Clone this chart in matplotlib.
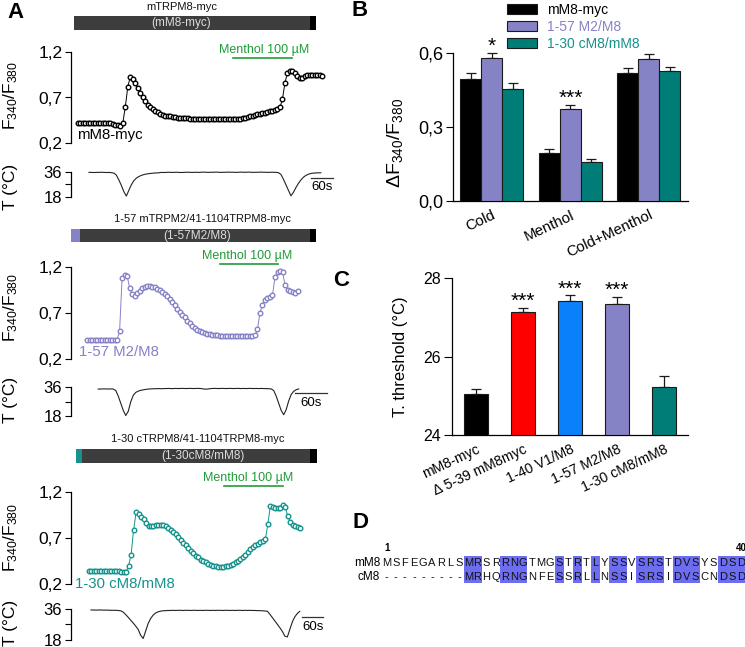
import numpy as np
import matplotlib
matplotlib.use('Agg')
import matplotlib.pyplot as plt
from matplotlib.transforms import blended_transform_factory
from matplotlib.patches import Rectangle

plt.rcParams['font.family'] = ['Liberation Sans', 'DejaVu Sans']
plt.rcParams['mathtext.fontset'] = 'custom'
plt.rcParams['mathtext.rm'] = 'Liberation Sans'
plt.rcParams['mathtext.it'] = 'Liberation Sans:italic'
plt.rcParams['mathtext.bf'] = 'Liberation Sans:bold'
plt.rcParams['axes.linewidth'] = 0.9

# ======================= DATA =======================
# ---- Panel A: calcium imaging traces ----
A_TITLES = ['mTRPM8-myc', '1-57 mTRPM2/41-1104TRPM8-myc', '1-30 cTRPM8/41-1104TRPM8-myc']
A_SHORT = ['(mM8-myc)', '(1-57M2/M8)', '(1-30cM8/mM8)']
A_LABELS = ['mM8-myc', '1-57 M2/M8', '1-30 cM8/mM8']
A_COLORS = ['#000000', '#8682c6', '#14928b']
A_HEAD = [None, '#8682c6', '#14928b']
MENTHOL_LABEL = 'Menthol 100 µM'

RATIO_T0 = [19, 30, 51]        # s, first sample
RATIO_DT = [6.8, 4.7, 7.1]     # s per sample
TEMP_T0 = [49, 51, 57]
TEMP_DT = [6.8, 4.7, 7.1]
MENTHOL_ON = [(442, 603), (279, 388), (437, 606)]   # s
SCALE_START = [654, 420, 660]  # s
SCALE_LEN = 60                 # s

ratio_1 = [0.42, 0.421, 0.42, 0.419, 0.42, 0.421, 0.42, 0.42, 0.419, 0.42, 0.42, 0.419, 0.418,
           0.415, 0.41, 0.40, 0.395, 0.39,
           0.42, 0.60, 0.82, 0.93, 0.91, 0.86, 0.80, 0.75, 0.70, 0.66, 0.62, 0.59, 0.57, 0.55,
           0.535, 0.52, 0.51, 0.50, 0.495, 0.49, 0.485, 0.48, 0.478, 0.475, 0.472, 0.47, 0.468, 0.466,
           0.465, 0.465, 0.464, 0.465, 0.463, 0.464, 0.463, 0.462, 0.463, 0.461, 0.462, 0.46, 0.461,
           0.459, 0.46, 0.458, 0.459,
           0.46, 0.462, 0.466, 0.47, 0.476, 0.483, 0.49, 0.497, 0.505, 0.512, 0.52, 0.527, 0.534,
           0.54, 0.547, 0.554, 0.562, 0.572, 0.59, 0.68, 0.86, 0.97, 0.99, 0.99, 0.97, 0.94, 0.92,
           0.92, 0.935, 0.95, 0.95, 0.95, 0.95, 0.95, 0.945, 0.94]
ratio_2 = [0.41, 0.41, 0.409, 0.41, 0.411, 0.41, 0.41, 0.409, 0.41, 0.41, 0.411, 0.41, 0.41,
           0.50, 1.08, 1.11, 1.10, 0.97, 0.90, 0.88, 0.91, 0.94, 0.965, 0.98, 0.99, 0.99, 0.985,
           0.975, 0.96, 0.945, 0.925, 0.905, 0.88, 0.85, 0.815, 0.78, 0.745, 0.71, 0.68, 0.65,
           0.615, 0.59, 0.56, 0.535, 0.515, 0.50, 0.49, 0.48, 0.475, 0.47, 0.465, 0.46, 0.455, 0.452,
           0.45, 0.45, 0.449, 0.45, 0.448, 0.45, 0.449, 0.45, 0.45, 0.449, 0.45, 0.45, 0.452, 0.455,
           0.52, 0.70, 0.79, 0.835, 0.86, 0.87, 0.89, 1.09, 1.14, 1.15, 1.14, 1.00, 0.95, 0.94,
           0.93, 0.91, 0.94]
ratio_3 = [0.34, 0.34, 0.341, 0.34, 0.339, 0.34, 0.34, 0.341, 0.34, 0.339, 0.338, 0.338, 0.337,
           0.336, 0.335, 0.336,
           0.40, 0.52, 0.79, 0.98, 0.96, 0.93, 0.91, 0.86, 0.83, 0.83, 0.835, 0.84, 0.845, 0.845,
           0.84, 0.83, 0.815, 0.79, 0.77, 0.74, 0.71, 0.68, 0.65, 0.62, 0.59, 0.56, 0.535, 0.51,
           0.49, 0.465, 0.45, 0.435, 0.42, 0.41, 0.40, 0.395, 0.39, 0.39, 0.39, 0.395, 0.40, 0.41,
           0.42, 0.435, 0.45, 0.47, 0.49, 0.52, 0.55, 0.58, 0.60, 0.62, 0.64, 0.655, 0.67, 0.69,
           0.85, 1.05, 1.04, 1.03, 1.03, 1.03, 1.06, 1.04, 0.94, 0.88, 0.84, 0.83, 0.82, 0.81]

temp_1 = [35.5, 35.5, 35.4, 35.5, 35.5, 35.6, 35.5, 35.4, 35.5, 35.3,
          35.0, 33.5, 30.0, 26.0, 21.5, 18.3, 22.5, 26.5, 29.5, 31.3, 32.5, 33.3, 33.9, 34.3,
          34.6, 34.8, 35.0, 35.1, 35.2,
          35.5, 35.4, 35.5, 35.6, 35.5, 35.5, 35.6, 35.5, 35.4, 35.5, 35.6, 35.6, 35.5, 35.5,
          35.6, 35.5, 35.6, 35.7, 35.6, 35.5, 35.6, 35.6, 35.7, 35.6, 35.5, 35.6, 35.6, 35.7,
          35.6, 35.6, 35.5, 35.6, 35.7, 35.6, 35.6, 35.7, 35.6, 35.5, 35.6, 35.6, 35.7, 35.6,
          35.6, 35.5, 35.6, 35.6, 35.5,
          35.3, 34.0, 30.5, 26.5, 22.5, 18.5, 21.0, 24.5, 27.5, 30.0, 32.0, 33.3, 34.2, 34.7,
          35.0, 35.1, 35.2, 35.2]
temp_2 = [34.9, 34.9, 35.0, 35.0, 34.9, 35.0, 34.9,
          34.0, 30.5, 26.0, 21.5, 18.3, 21.0, 27.0, 31.0, 32.8, 33.6, 34.1, 34.4, 34.7, 34.9, 35.0,
          35.1, 35.1, 35.2, 35.1, 35.2, 35.2, 35.3, 35.2, 35.2, 35.3, 35.2, 35.3, 35.3, 35.2, 35.3,
          35.3, 35.2, 35.3, 35.3, 35.2, 35.0, 34.8, 35.0, 35.2, 35.3, 35.3, 35.2, 35.3, 35.3, 35.2,
          35.3, 35.3, 35.2, 35.3, 35.3, 35.2, 35.3, 35.2, 35.3, 35.3, 35.2, 35.3, 35.2, 35.3, 35.2,
          35.2, 35.1,
          35.0, 34.0, 30.5, 26.0, 21.5, 18.8, 22.0, 27.5, 31.5, 33.5, 34.5, 35.0]
temp_3 = [35.6, 35.6, 35.5, 35.6, 35.6, 35.5, 35.5, 35.5, 35.4, 35.4, 35.4, 35.3,
          35.1, 34.3, 32.8, 31.2, 29.5, 27.8, 26.0, 24.0, 20.5, 18.6,
          23.0, 27.5, 30.5, 32.5, 33.8, 34.5, 34.9, 35.1, 35.2, 35.3,
          35.3, 35.4, 35.3, 35.4, 35.4, 35.3, 35.4, 35.4, 35.3, 35.4, 35.4, 35.3, 35.4, 35.3,
          35.4, 35.4, 35.3, 35.4, 35.3, 35.4, 35.4, 35.3, 35.4, 35.4, 35.3, 35.4, 35.3, 35.4,
          35.4, 35.3, 35.4, 35.3, 35.4, 35.3, 35.3, 35.2, 35.2, 35.1, 35.0,
          34.8, 33.0, 31.0, 29.0, 27.0, 25.0, 22.8, 20.0, 19.5, 24.0, 28.5, 31.5, 33.5, 34.8]

RATIOS = [ratio_1, ratio_2, ratio_3]
TEMPS = [temp_1, temp_2, temp_3]
RATIO_TICKS = [0.2, 0.7, 1.2]
RATIO_TICKLABELS = ['0,2', '0,7', '1,2']
TEMP_TICKS = [18, 27, 36]
TEMP_TICKLABELS = ['18', '', '36']

# ---- Panel B ----
B_CATS = ['Cold', 'Menthol', 'Cold+Menthol']
B_SERIES = ['mM8-myc', '1-57 M2/M8', '1-30 cM8/mM8']
B_MEANS = [[0.496, 0.196, 0.521],
           [0.580, 0.372, 0.577],
           [0.456, 0.157, 0.528]]
B_SEM = [[0.022, 0.014, 0.018],
         [0.020, 0.020, 0.019],
         [0.022, 0.013, 0.017]]
B_STARS = ['*', '***', '']          # over series 2
B_COLORS = ['#000000', '#8682c6', '#007d77']
B_TEXTCOLORS = ['#000000', '#8682c6', '#14928b']
B_TICKS = [0.0, 0.3, 0.6]
B_TICKLABELS = ['0,0', '0,3', '0,6']

# ---- Panel C ----
C_CATS = ['mM8-myc', 'Δ 5-39 mM8myc', '1-40 V1/M8', '1-57 M2/M8', '1-30 cM8/mM8']
C_MEANS = [25.04, 27.13, 27.42, 27.34, 25.23]
C_SEM = [0.13, 0.12, 0.16, 0.19, 0.28]
C_COLORS = ['#000000', '#ff0000', '#0a80fa', '#8682c6', '#007d77']
C_STARS = ['', '***', '***', '***', '']
C_TICKS = [24, 26, 28]

# ---- Panel D ----
D_NAMES = ['mM8', 'cM8']
D_SEQS = ['MSFEGARLSMRSRRNGTMGSTRTLYSSVSRSTDVSYSDSD',
          '---------MRHQRNGNFESSRLLNSSISRSIDVSCNDSD']
D_NUMS = [(1, '1'), (40, '40')]

# ======================= FIGURE =======================
W, H = 745, 647
fig = plt.figure(figsize=(W / 100, H / 100), dpi=100)
ov = fig.add_axes([0, 0, 1, 1])
ov.set_xlim(0, W); ov.set_ylim(H, 0); ov.axis('off'); ov.set_zorder(10)


def box(x0, y0, x1, y1):
    return [x0 / W, 1 - y1 / H, (x1 - x0) / W, (y1 - y0) / H]


GREEN = '#1f9c3a'
LAY = [
    dict(title=(182, 7), bar=(74, 16, 316, 30), head=None, short=(181, 23),
         tr=(52.3, 142.7), te=(171.7, 196.5), xspan=720, men_y=58, men_txt=(264, 50),
         label=(77, 135), flab=95, tlab=187, s_y=178, s_txt=187.5),
    dict(title=(203, 219), bar=(71, 229, 316, 242), head=80, short=(197, 236),
         tr=(266.7, 359), te=(387.3, 416), xspan=495, men_y=264, men_txt=(247, 256),
         label=(79, 352), flab=307, tlab=400, s_y=393, s_txt=403),
    dict(title=(198, 439), bar=(76, 449, 317, 463), head=82, short=(203, 456),
         tr=(492.3, 584), te=(609.3, 639.5), xspan=754, men_y=486, men_txt=(248, 478),
         label=(75, 584), flab=537, tlab=623, s_y=617, s_txt=626.5),
]

for g in range(3):
    L = LAY[g]
    col = A_COLORS[g]
    # construct schematic
    x0, y0, x1, y1 = L['bar']
    ov.add_patch(Rectangle((x0, y0), x1 - x0, y1 - y0, facecolor='#3d3d3d', edgecolor='none'))
    ov.add_patch(Rectangle((310, y0), x1 - 310, y1 - y0, facecolor='#000000', edgecolor='none'))
    if L['head'] is not None:
        ov.add_patch(Rectangle((x0, y0), L['head'] - x0, y1 - y0, facecolor=A_HEAD[g], edgecolor='none'))
    ov.text(*L['title'], A_TITLES[g], ha='center', va='center', fontsize=8, color='#111111')
    ov.text(*L['short'], A_SHORT[g], ha='center', va='center', fontsize=8.5, color='#dddddd')

    # ratio trace
    axr = fig.add_axes(box(71, L['tr'][0], 335, L['tr'][1]))
    axr.patch.set_visible(False)
    t = RATIO_T0[g] + RATIO_DT[g] * np.arange(len(RATIOS[g]))
    axr.plot(t, RATIOS[g], '-o', color=col, lw=0.7, ms=3.3, mfc='white', mec=col, mew=1.0,
             clip_on=False)
    axr.set_xlim(0, L['xspan']); axr.set_ylim(0.2, 1.2)
    for s in ['top', 'right', 'bottom']:
        axr.spines[s].set_visible(False)
    axr.set_xticks([])
    axr.set_yticks(RATIO_TICKS)
    axr.set_yticklabels(RATIO_TICKLABELS, fontsize=12.5)
    axr.tick_params(axis='y', length=4.3, width=0.8, pad=2)
    # menthol bar
    tb = blended_transform_factory(axr.transData, ov.transData)
    axr.plot(MENTHOL_ON[g], [L['men_y'], L['men_y']], color=GREEN, lw=1.2, transform=tb, clip_on=False)
    ov.text(*L['men_txt'], MENTHOL_LABEL, ha='center', va='center', fontsize=9, color=GREEN)
    ov.text(L['label'][0], L['label'][1], A_LABELS[g], ha='left', va='center', fontsize=10.8, color=col)
    ov.text(11, L['flab'], r'$\mathrm{F_{340}/F_{380}}$', rotation=90, ha='center', va='center', fontsize=12.5)

    # temperature trace
    axt = fig.add_axes(box(71, L['te'][0], 335, L['te'][1]))
    axt.patch.set_visible(False)
    tt = TEMP_T0[g] + TEMP_DT[g] * np.arange(len(TEMPS[g]))
    axt.plot(tt, TEMPS[g], color='#222222', lw=0.8, clip_on=False)
    axt.set_xlim(0, L['xspan']); axt.set_ylim(18, 36)
    for s in ['top', 'right', 'bottom']:
        axt.spines[s].set_visible(False)
    axt.set_xticks([])
    axt.set_yticks(TEMP_TICKS)
    axt.set_yticklabels(TEMP_TICKLABELS, fontsize=12)
    axt.tick_params(axis='y', length=4.3, width=0.8, pad=2)
    tb2 = blended_transform_factory(axt.transData, ov.transData)
    sx = [SCALE_START[g], SCALE_START[g] + SCALE_LEN]
    axt.plot(sx, [L['s_y'], L['s_y']], color='#333333', lw=0.9, transform=tb2, clip_on=False)
    axt.text(np.mean(sx), L['s_txt'], '%ds' % SCALE_LEN, transform=tb2, ha='center', va='center',
             fontsize=9.5)
    ov.text(11, L['tlab'], 'T (°C)', rotation=90, ha='center', va='center', fontsize=12.5)

# ---- Panel B ----
axB = fig.add_axes(box(452.7, 53.3, 688, 201))
axB.patch.set_visible(False)
xB = np.arange(len(B_CATS))
wB = 0.268
handles = []
for k in range(len(B_SERIES)):
    xs = xB + (k - 1) * wB
    h = axB.bar(xs, B_MEANS[k], wB, color=B_COLORS[k], edgecolor='#1a1a1a', linewidth=0.8,
                label=B_SERIES[k], zorder=3)
    handles.append(h)
    eb = axB.errorbar(xs, B_MEANS[k], yerr=[np.zeros(len(xs)), B_SEM[k]], fmt='none',
                      ecolor='#1a1a1a', elinewidth=0.9, capsize=3.3, capthick=0.9, zorder=2)
    for art in eb.lines[1] + eb.lines[2]:
        art.set_clip_on(False)
for i, st in enumerate(B_STARS):
    if st:
        axB.text(xB[i], B_MEANS[1][i] + B_SEM[1][i] + 0.004, st, ha='center', va='baseline', fontsize=15)
axB.set_xlim(-0.5, 2.5); axB.set_ylim(0, 0.6)
for s in ['top', 'right']:
    axB.spines[s].set_visible(False)
axB.set_yticks(B_TICKS)
axB.set_yticklabels(B_TICKLABELS, fontsize=13)
axB.tick_params(axis='y', length=5, width=0.8, pad=2)
axB.set_xticks(xB)
axB.set_xticklabels(B_CATS, rotation=25, ha='right', va='top', rotation_mode='anchor', fontsize=10.8)
axB.tick_params(axis='x', length=0, pad=5)
axB.set_ylabel(r'$\mathrm{\Delta F_{340}/F_{380}}$', fontsize=14, va='center', ha='center')
axB.yaxis.set_label_coords(395, 143, transform=ov.transData)
axB.legend(handles=handles, labels=B_SERIES, loc='upper left', bbox_to_anchor=(506.7, 3.0),
           bbox_transform=ov.transData, frameon=False, fontsize=10, handlelength=2.16,
           handleheight=0.72, handletextpad=0.72, labelspacing=0.22, borderpad=0, borderaxespad=0,
           labelcolor=B_TEXTCOLORS)

# ---- Panel C ----
axC = fig.add_axes(box(451.7, 278.3, 688, 435))
axC.patch.set_visible(False)
xC = np.arange(len(C_CATS))
axC.bar(xC, np.array(C_MEANS) - 24, 0.51, bottom=24, color=C_COLORS, edgecolor='#1a1a1a',
        linewidth=0.8, zorder=3)
ebc = axC.errorbar(xC, C_MEANS, yerr=[np.zeros(len(xC)), C_SEM], fmt='none', ecolor='#1a1a1a',
                   elinewidth=0.9, capsize=3.3, capthick=0.9, zorder=2)
for i, st in enumerate(C_STARS):
    if st:
        axC.text(xC[i], C_MEANS[i] + C_SEM[i] + 0.01, st, ha='center', va='baseline', fontsize=15)
axC.set_xlim(-0.51, 4.5); axC.set_ylim(24, 28)
for s in ['top', 'right']:
    axC.spines[s].set_visible(False)
axC.set_yticks(C_TICKS)
axC.set_yticklabels([str(v) for v in C_TICKS], fontsize=11.5)
axC.tick_params(axis='y', length=5.5, width=0.8, pad=2)
axC.set_xticks(xC)
axC.set_xticklabels(C_CATS, rotation=25, ha='right', va='top', rotation_mode='anchor', fontsize=10.2)
axC.tick_params(axis='x', length=0, pad=5)
axC.set_ylabel('T. threshold (°C)', fontsize=12, va='center', ha='center')
axC.yaxis.set_label_coords(400, 357, transform=ov.transData)

# ---- Panel D ----
cx0, dx = 386.7, 9.08
rows_y = [563.3, 576.7]
for i in range(len(D_SEQS[0])):
    a, b = D_SEQS[0][i], D_SEQS[1][i]
    if a == b and a != '-':
        ov.add_patch(Rectangle((cx0 + dx * i - dx / 2, 555.7), dx, 27.6, facecolor='#6d6df2',
                               edgecolor='none', zorder=1))
for r, (name, seq) in enumerate(zip(D_NAMES, D_SEQS)):
    ov.text(380, rows_y[r], name, ha='right', va='center', fontsize=8.5, zorder=2)
    for i, ch in enumerate(seq):
        ov.text(cx0 + dx * i, rows_y[r], ch, ha='center', va='center', fontsize=8, zorder=2,
                color='#111111')
for pos, lab in D_NUMS:
    ov.text(cx0 + dx * (pos - 1), 548, lab, ha='center', va='center', fontsize=7, fontweight='bold')

# ---- panel letters ----
for lab, (x, y) in zip('ABCD', [(15, 13), (360, 11), (341, 281), (360, 522)]):
    ov.text(x, y, lab, ha='center', va='center', fontsize=16, fontweight='bold')

fig.savefig('out.png', dpi=100)
